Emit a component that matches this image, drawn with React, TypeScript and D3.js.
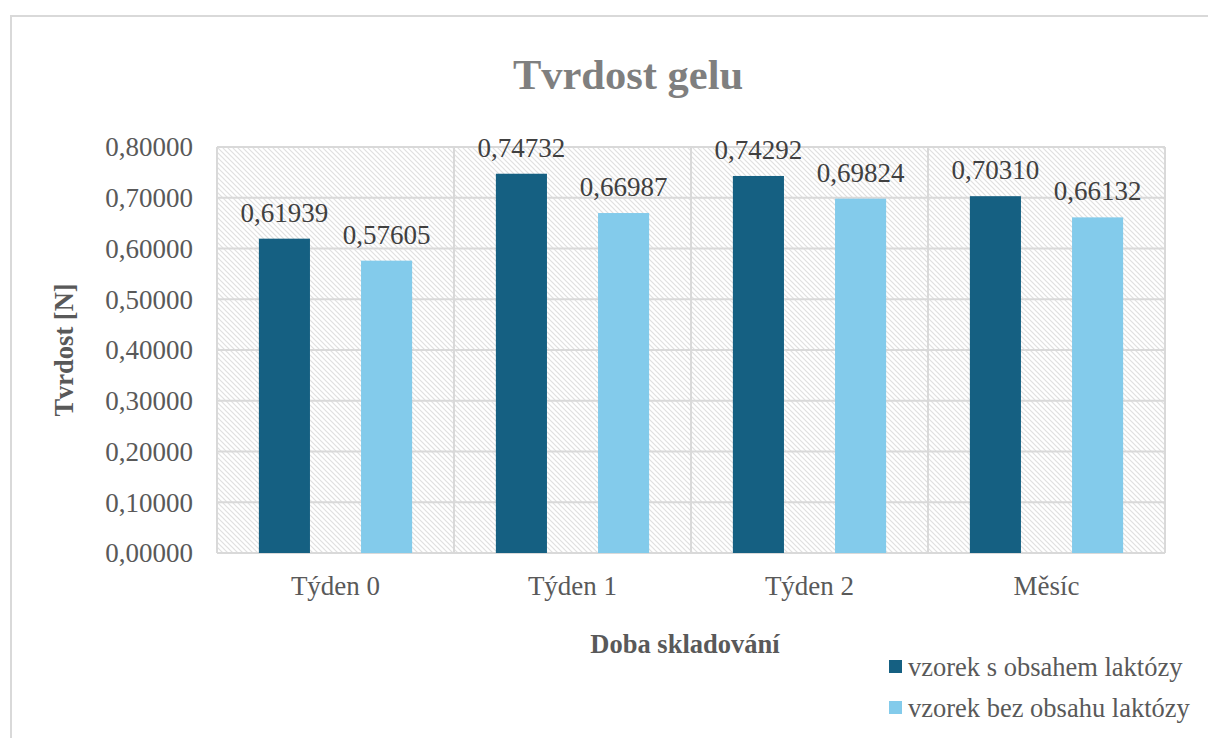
import React, { useEffect, useRef } from 'react';
import * as d3 from 'd3';

const categories = ['Týden 0', 'Týden 1', 'Týden 2', 'Měsíc'];
const seriesNames = ['vzorek s obsahem laktózy', 'vzorek bez obsahu laktózy'];
const withLactose = [0.61939, 0.74732, 0.74292, 0.7031];
const withoutLactose = [0.57605, 0.66987, 0.69824, 0.66132];
const yTicks = [0, 0.1, 0.2, 0.3, 0.4, 0.5, 0.6, 0.7, 0.8];
const colors = ['#156082', '#83cbeb'];

const W = 1208;
const H = 738;
const FONT = '"Liberation Serif", "Times New Roman", serif';

export default function App() {
  const svgRef = useRef<SVGSVGElement>(null);

  useEffect(() => {
    const svg = d3.select(svgRef.current);
    svg.selectAll('*').remove();

    const margin = { top: 147, left: 217, right: 43, bottom: 185 };
    const width = W - margin.left - margin.right;
    const height = H - margin.top - margin.bottom;

    // hatch pattern for plot background
    const defs = svg.append('defs');
    const pat = defs.append('pattern')
      .attr('id', 'hatch')
      .attr('patternUnits', 'userSpaceOnUse')
      .attr('width', 5)
      .attr('height', 5);
    pat.append('rect').attr('width', 5).attr('height', 5).attr('fill', '#fff');
    pat.append('path')
      .attr('d', 'M-1,-1 L6,6 M-1,4 L1,6 M4,-1 L6,1')
      .attr('stroke', '#e0e0e0')
      .attr('stroke-width', 1.2);

    // outer chart border
    svg.append('rect')
      .attr('x', 11).attr('y', 16)
      .attr('width', W).attr('height', H)
      .attr('fill', '#fff')
      .attr('stroke', '#d9d9d9')
      .attr('stroke-width', 2);

    const x = d3.scaleBand().domain(categories).range([0, width]);
    const x1 = d3.scaleBand().domain(seriesNames).range([0, x.bandwidth()])
      .paddingInner(0.5).paddingOuter(0.41);
    const y = d3.scaleLinear().domain([0, 0.8]).range([height, 0]);

    const g = svg.append('g').attr('transform', `translate(${margin.left},${margin.top})`);

    g.append('rect')
      .attr('width', width).attr('height', height)
      .attr('fill', 'url(#hatch)');

    // horizontal gridlines
    g.append('g').selectAll('line').data(yTicks).join('line')
      .attr('x1', 0).attr('x2', width)
      .attr('y1', d => y(d)).attr('y2', d => y(d))
      .attr('stroke', '#d9d9d9').attr('stroke-width', 2);

    // vertical gridlines at category boundaries
    const bounds = categories.map(c => x(c) as number).concat([width]);
    g.append('g').selectAll('line').data(bounds).join('line')
      .attr('x1', d => d).attr('x2', d => d)
      .attr('y1', 0).attr('y2', height)
      .attr('stroke', '#d9d9d9').attr('stroke-width', 2);

    const fmt = (v: number) => v.toFixed(5).replace('.', ',');

    const series = [withLactose, withoutLactose];
    series.forEach((vals, si) => {
      const sg = g.append('g');
      sg.selectAll('rect').data(vals).join('rect')
        .attr('x', (d, i) => (x(categories[i]) as number) + (x1(seriesNames[si]) as number))
        .attr('y', d => y(d))
        .attr('width', x1.bandwidth())
        .attr('height', d => height - y(d))
        .attr('fill', colors[si]);
      sg.selectAll('text').data(vals).join('text')
        .attr('x', (d, i) => (x(categories[i]) as number) + (x1(seriesNames[si]) as number) + x1.bandwidth() / 2)
        .attr('y', d => y(d) - 17)
        .attr('text-anchor', 'middle')
        .attr('font-family', FONT)
        .attr('font-size', 27)
        .attr('fill', '#404040')
        .text(d => fmt(d));
    });

    // y axis tick labels
    g.append('g').selectAll('text').data(yTicks).join('text')
      .attr('x', -24)
      .attr('y', d => y(d))
      .attr('dy', '0.35em')
      .attr('text-anchor', 'end')
      .attr('font-family', FONT)
      .attr('font-size', 27)
      .attr('fill', '#595959')
      .text(d => fmt(d));

    // x axis labels
    g.append('g').selectAll('text').data(categories).join('text')
      .attr('x', d => (x(d) as number) + x.bandwidth() / 2)
      .attr('y', height + 42)
      .attr('text-anchor', 'middle')
      .attr('font-family', FONT)
      .attr('font-size', 27)
      .attr('fill', '#595959')
      .text(d => d);

    // title
    svg.append('text')
      .attr('x', 628).attr('y', 89)
      .attr('text-anchor', 'middle')
      .attr('font-family', FONT)
      .attr('font-weight', 'bold')
      .attr('font-size', 42.5)
      .attr('fill', '#7f7f7f')
      .text('Tvrdost gelu');

    // axis titles
    svg.append('text')
      .attr('x', 685).attr('y', 653)
      .attr('text-anchor', 'middle')
      .attr('font-family', FONT)
      .attr('font-weight', 'bold')
      .attr('font-size', 26.5)
      .attr('fill', '#595959')
      .text('Doba skladování');

    svg.append('text')
      .attr('transform', 'translate(73,350) rotate(-90)')
      .attr('text-anchor', 'middle')
      .attr('font-family', FONT)
      .attr('font-weight', 'bold')
      .attr('font-size', 26.5)
      .attr('fill', '#595959')
      .text('Tvrdost [N]');

    // legend
    const lg = svg.append('g').selectAll('g').data(seriesNames).join('g')
      .attr('transform', (d, i) => `translate(889,${660 + i * 41})`);
    lg.append('rect').attr('width', 13).attr('height', 13).attr('fill', (d, i) => colors[i]);
    lg.append('text')
      .attr('x', 19).attr('y', 7).attr('dy', '0.35em')
      .attr('font-family', FONT)
      .attr('font-size', 26.5)
      .attr('fill', '#595959')
      .text(d => d);
  }, []);

  return (
    <svg ref={svgRef} width={W} height={H} style={{ position: 'absolute', left: 0, top: 0 }} />
  );
}
